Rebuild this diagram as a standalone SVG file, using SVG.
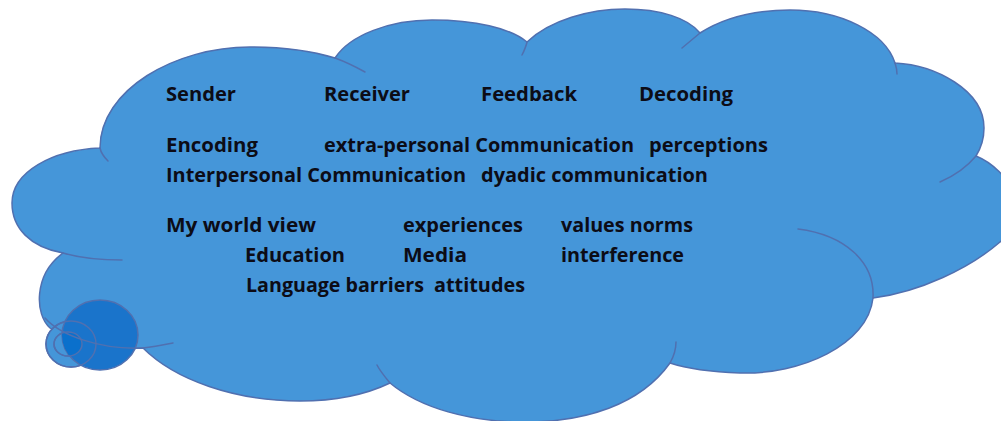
<svg xmlns="http://www.w3.org/2000/svg" width="1001" height="421" viewBox="0 0 1001 421">
  <defs>
    <style>
      .cloud { fill: #4596D9; stroke: #5070B0; stroke-width: 1.5; stroke-linejoin: round; }
      .arc { fill: none; stroke: #5070B0; stroke-width: 1.5; stroke-linecap: round; }
      .bub { stroke: #5070B0; stroke-width: 1.5; }
      .t { font-family: "Open Sans", "Liberation Sans", sans-serif; font-weight: bold; font-size: 19px; fill: #0c0c16; }
    </style>
    <clipPath id="bigClip">
      <ellipse cx="100" cy="335" rx="38" ry="35"/>
    </clipPath>
  </defs>
  <rect width="1001" height="421" fill="#ffffff"/>

  <g id="cloud">
    <path class="cloud" d="M100,148
      C100,90 175,47 250,47 C290,47 315,52 335,58
      C350,35 390,20 432,20 C475,20 510,28 527,42
      C550,20 590,9 625,9 C660,9 688,18 700,33
      C725,17 755,10 790,10 C840,10 885,32 895,63
      C935,65 984,90 984,128 C984,138 981,148 976,156
      C1010,170 1035,215 1000,242 C970,268 920,292 873,298
      C868,345 800,375 740,373 C712,372 688,369 670,363
      C640,405 585,422 525,422 C470,422 420,408 390,383
      C365,395 335,401 300,401 C235,401 175,380 143,348
      C115,350 75,345 50,328 C35,315 33,275 63,253
      C30,247 12,228 12,203 C12,172 52,150 100,148 Z"/>
    <path class="arc" d="M100,148 C101,153 104,157 108,161"/>
    <path class="arc" d="M335,58 C346,62 356,67 365,72"/>
    <path class="arc" d="M527,42 C526,47 524,51 522,55"/>
    <path class="arc" d="M700,33 C694,38 688,43 682,48"/>
    <path class="arc" d="M895,63 C896,66 897,70 897,74"/>
    <path class="arc" d="M976,156 C966,168 954,176 940,182"/>
    <path class="arc" d="M873,298 C875,262 845,235 798,229"/>
    <path class="arc" d="M670,363 C674,356 676,349 676,342"/>
    <path class="arc" d="M390,383 C385,377 380,371 377,365"/>
    <path class="arc" d="M63,253 C80,258 100,260 122,260"/>
  </g>

  <g id="bubbles">
    <ellipse class="bub" cx="71" cy="344" rx="25" ry="23" fill="#4596D9"/>
    <ellipse class="bub" cx="68" cy="344" rx="14" ry="12" fill="#4596D9"/>
    <ellipse class="bub" cx="100" cy="335" rx="38" ry="35" fill="#1A74CB"/>
    <g clip-path="url(#bigClip)">
      <ellipse cx="68" cy="344" rx="14" ry="12" fill="#0A70CC"/>
    </g>
    <ellipse cx="71" cy="344" rx="25" ry="23" fill="none" class="arc"/>
    <ellipse cx="68" cy="344" rx="14" ry="12" fill="none" class="arc"/>
    <path class="arc" d="M45,318 C60,335 100,350 143,348 C153,347 163,345 173,343"/>
  </g>

  <g id="labels">
    <text class="t" x="166" y="101" textLength="70" lengthAdjust="spacingAndGlyphs">Sender</text>
    <text class="t" x="324" y="101" textLength="86" lengthAdjust="spacingAndGlyphs">Receiver</text>
    <text class="t" x="481" y="101" textLength="96" lengthAdjust="spacingAndGlyphs">Feedback</text>
    <text class="t" x="639" y="101" textLength="94" lengthAdjust="spacingAndGlyphs">Decoding</text>

    <text class="t" x="166" y="152" textLength="92" lengthAdjust="spacingAndGlyphs">Encoding</text>
    <text class="t" x="324" y="152" textLength="310" lengthAdjust="spacingAndGlyphs">extra-personal Communication</text>
    <text class="t" x="649" y="152" textLength="119" lengthAdjust="spacingAndGlyphs">perceptions</text>

    <text class="t" x="166" y="182" textLength="300" lengthAdjust="spacingAndGlyphs">Interpersonal Communication</text>
    <text class="t" x="481" y="182" textLength="227" lengthAdjust="spacingAndGlyphs">dyadic communication</text>

    <text class="t" x="166" y="232" textLength="150" lengthAdjust="spacingAndGlyphs">My world view</text>
    <text class="t" x="403" y="232" textLength="120" lengthAdjust="spacingAndGlyphs">experiences</text>
    <text class="t" x="561" y="232" textLength="132" lengthAdjust="spacingAndGlyphs">values norms</text>

    <text class="t" x="245" y="262" textLength="100" lengthAdjust="spacingAndGlyphs">Education</text>
    <text class="t" x="403" y="262" textLength="64" lengthAdjust="spacingAndGlyphs">Media</text>
    <text class="t" x="561" y="262" textLength="123" lengthAdjust="spacingAndGlyphs">interference</text>

    <text class="t" x="246" y="292" textLength="178" lengthAdjust="spacingAndGlyphs">Language barriers</text>
    <text class="t" x="434" y="292" textLength="91" lengthAdjust="spacingAndGlyphs">attitudes</text>
  </g>
</svg>
